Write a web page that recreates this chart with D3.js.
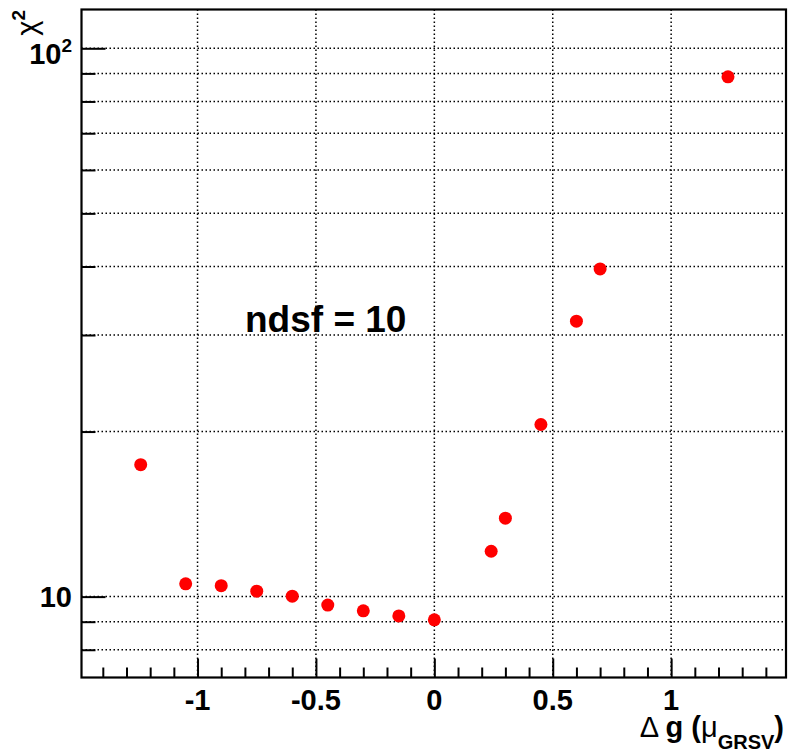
<!DOCTYPE html>
<html>
<head>
<meta charset="utf-8">
<script src="https://cdn.jsdelivr.net/npm/d3@7"></script>
<style>
  body { margin: 0; background: #fff; }
  text { font-family: "Liberation Sans", Arial, Helvetica, sans-serif; font-weight: bold; fill: #000; }
</style>
</head>
<body>
<script>
// ************************************************************************************
// DATA
// ************************************************************************************
var dg    = [-1.24, -1.05, -0.9, -0.75, -0.6, -0.45, -0.3, -0.15, 0, 0.24, 0.3, 0.45, 0.6, 0.7, 1.24]
  , chi2  = [17.4, 10.55, 10.47, 10.23, 10.02, 9.65, 9.42, 9.22, 9.07, 12.1, 13.9, 20.6, 31.8, 39.6, 88.7]
  , xMajor = [-1, -0.5, 0, 0.5, 1]
  , xLabels = ["-1", "-0.5", "0", "0.5", "1"]
  , xMinor = [-1.4, -1.3, -1.2, -1.1, -0.9, -0.8, -0.7, -0.6, -0.4, -0.3, -0.2, -0.1,
              0.1, 0.2, 0.3, 0.4, 0.6, 0.7, 0.8, 0.9, 1.1, 1.2, 1.3, 1.4]
  , yMajor = [10, 100]
  , yMinor = [8, 9, 20, 30, 40, 50, 60, 70, 80, 90]

// ************************************************************************************
// GLOBAL VARIABLES
// ************************************************************************************
var W = 789, H = 753
  , L = 81.5, R = 786, T = 9.5, B = 677.5
  , svg = d3.select("body").append("svg").attr("width", W).attr("height", H)
  , x = d3.scaleLinear().domain([-1.49, 1.485]).range([L, R])
  , y = d3.scaleLog().domain([7.12, 117.7]).range([B, T])

// ************************************************************************************
// GRID
// ************************************************************************************
var grid = svg.append("g")
  .attr("stroke", "#000").attr("stroke-width", 1.5).attr("stroke-dasharray", "1.5,2.5")

grid.selectAll(".gx").data(xMajor).enter().append("line")
  .attr("x1", d => x(d)).attr("x2", d => x(d)).attr("y1", T).attr("y2", B)

grid.selectAll(".gy").data(yMajor.concat(yMinor)).enter().append("line")
  .attr("x1", L).attr("x2", R).attr("y1", d => y(d)).attr("y2", d => y(d))

// ************************************************************************************
// AXES
// ************************************************************************************
function ticks (g) {
  g.select(".domain").remove()
  g.selectAll("line").attr("stroke", "#000").attr("stroke-width", 2)
  g.selectAll("text").remove()
}

svg.append("g").attr("transform", "translate(0," + B + ")")
  .call(d3.axisBottom(x).tickValues(xMajor).tickSize(-19)).call(ticks)
svg.append("g").attr("transform", "translate(0," + B + ")")
  .call(d3.axisBottom(x).tickValues(xMinor).tickSize(-10)).call(ticks)
svg.append("g").attr("transform", "translate(" + L + ",0)")
  .call(d3.axisLeft(y).tickValues(yMajor).tickSize(-24)).call(ticks)
svg.append("g").attr("transform", "translate(" + L + ",0)")
  .call(d3.axisLeft(y).tickValues(yMinor).tickSize(-14)).call(ticks)

// frame
svg.append("rect").attr("x", L).attr("y", T).attr("width", R - L).attr("height", B - T)
  .attr("fill", "none").attr("stroke", "#000").attr("stroke-width", 2.2)

// x labels
svg.selectAll(".xl").data(xMajor).enter().append("text")
  .attr("x", d => x(d)).attr("y", 710).attr("text-anchor", "middle")
  .attr("font-size", 29).text((d, i) => xLabels[i])

// y labels
svg.append("text").attr("x", 72).attr("y", y(10) + 10.5).attr("text-anchor", "end")
  .attr("font-size", 29).text("10")
var l100 = svg.append("text").attr("x", 72).attr("y", y(100) + 16).attr("text-anchor", "end")
  .attr("font-size", 29)
l100.append("tspan").text("10")
l100.append("tspan").attr("dy", -12).attr("font-size", 19).text("2")

// titles
var yt = svg.append("text").attr("transform", "translate(37,10) rotate(-90)")
  .attr("text-anchor", "end").attr("font-size", 29)
yt.append("tspan").attr("font-weight", "normal").text("\u03c7")
yt.append("tspan").attr("dy", -12).attr("font-size", 19).text("2")

var xt = svg.append("text").attr("x", 784).attr("y", 737).attr("text-anchor", "end")
  .attr("font-size", 29)
xt.append("tspan").attr("font-weight", "normal").text("\u0394 ")
xt.append("tspan").text("g (")
xt.append("tspan").attr("font-weight", "normal").text("\u03bc")
xt.append("tspan").attr("dy", 12).attr("font-size", 20).text("GRSV")
xt.append("tspan").attr("dy", -12).text(")")

svg.append("text").attr("x", 245).attr("y", 332).attr("font-size", 37).text("ndsf = 10")

// ************************************************************************************
// POINTS
// ************************************************************************************
svg.selectAll(".pt").data(dg).enter().append("circle")
  .attr("cx", d => x(d)).attr("cy", (d, i) => y(chi2[i])).attr("r", 6.5)
  .attr("fill", "#ff0000")
</script>
</body>
</html>
